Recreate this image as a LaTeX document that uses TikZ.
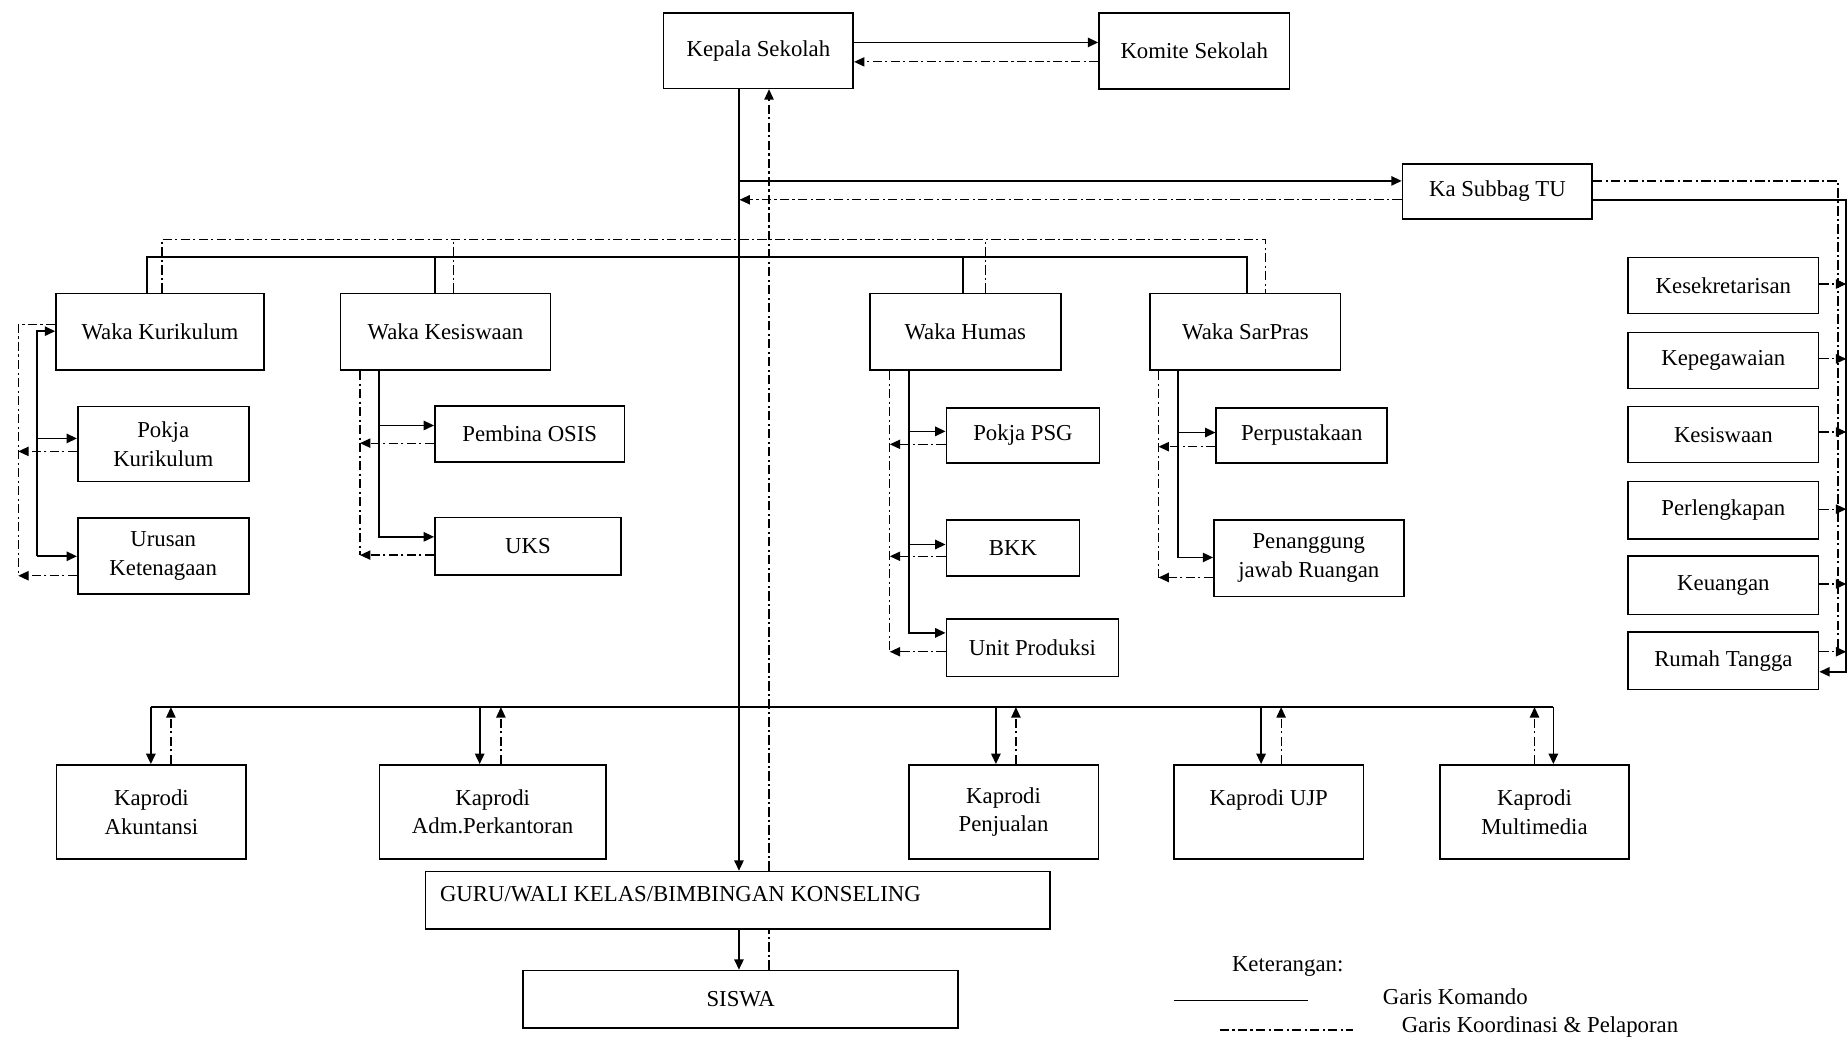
\documentclass[tikz,border=0pt]{standalone}
\usepackage{fontspec}
\setmainfont{Liberation Serif}
\usetikzlibrary{arrows.meta}
\newcommand\mkbox[6]{\node[ubox, minimum width={(#4-#2)*0.02cm}, minimum height={(#5-#3)*0.02cm}] (#1) at ({(#2+#4)/2},{(#3+#5)/2}) {#6};}
\begin{document}
\begin{tikzpicture}[x=0.02cm, y=-0.02cm,
  ubox/.style={draw, line width=0.8pt, fill=white, inner sep=0pt, align=center, font=\fontsize{11}{13.7}\selectfont},
  lbl/.style={inner sep=0pt, font=\fontsize{11}{13.7}\selectfont},
  cmdl/.style={line width=0.8pt},
  rpt/.style={line width=0.6pt, dash pattern=on 4.5pt off 1.6pt on 1pt off 1.6pt},
  arr/.style={-{Triangle[length=5pt,width=4.5pt]}}]
\useasboundingbox (0,0) rectangle (1568,882);
% boxes
\mkbox{kep}{563}{11}{724}{75}{Kepala Sekolah}
\mkbox{kom}{932.5}{11}{1094}{75.5}{Komite Sekolah}
\mkbox{tu}{1190}{139}{1351}{186}{Ka Subbag TU}
\mkbox{wkur}{47.5}{249}{224}{314}{Waka Kurikulum}
\mkbox{wkes}{289}{249}{467}{314}{Waka Kesiswaan}
\mkbox{whum}{738}{249}{900}{314}{Waka Humas}
\mkbox{wsar}{976}{249}{1137.5}{314}{Waka SarPras}
\mkbox{pkk}{66}{345}{211}{408.5}{Pokja\\Kurikulum}
\mkbox{urk}{66}{439.5}{211}{504}{Urusan\\Ketenagaan}
\mkbox{pos}{369}{344.5}{530}{392}{Pembina OSIS}
\mkbox{uks}{369}{439}{527}{488}{UKS}
\mkbox{psg}{803}{346}{933}{393}{Pokja PSG}
\mkbox{bkk}{803}{441}{916}{489}{BKK}
\mkbox{upr}{803}{525}{949}{574}{Unit Produksi}
\mkbox{per}{1032}{346}{1177}{393}{Perpustakaan}
\mkbox{pjr}{1030}{441}{1191}{506}{Penanggung\\jawab Ruangan}
\mkbox{kes}{1381.5}{218.5}{1543}{266}{Kesekretarisan}
\mkbox{kpg}{1381.5}{282}{1543}{329.5}{Kepegawaian}
\mkbox{ksw}{1381.5}{345}{1543}{392.5}{Kesiswaan}
\mkbox{plk}{1381.5}{408.5}{1543}{457.5}{Perlengkapan}
\mkbox{keu}{1381.5}{472}{1543}{521.5}{Keuangan}
\mkbox{rt}{1381.5}{536}{1543}{585}{Rumah Tangga}
\mkbox{kak}{48}{649}{209}{729}{Kaprodi\\Akuntansi}
\mkbox{kadm}{322}{649}{514}{729}{Kaprodi\\Adm.Perkantoran}
\mkbox{kpj}{771}{649}{932}{729}{Kaprodi\\Penjualan}
\mkbox{kujp}{996}{649}{1157}{729}{Kaprodi UJP\\\mbox{}}
\mkbox{kmm}{1222}{649}{1382}{729}{Kaprodi\\Multimedia}
\mkbox{guru}{361}{739.5}{891}{788}{}
\mkbox{siswa}{444}{823.5}{813}{872}{SISWA}
\node[lbl, anchor=west] (gurut) at (373,759) {GURU/WALI KELAS/BIMBINGAN KONSELING};
% top
\draw[cmdl,arr] (kep.east |- 0,36) -- (kom.west |- 0,36);
\draw[rpt,arr] (kom.west |- 0,52.5) -- (kep.east |- 0,52.5);
\draw[cmdl,arr] (kep.south -| 627,0) -- (guru.north -| 627,0);
\draw[cmdl,arr] (guru.south -| 627,0) -- (siswa.north -| 627,0);
\draw[rpt,arr] (guru.north -| 652.5,0) -- (kep.south -| 652.5,0);
\draw[rpt] (siswa.north -| 652.5,0) -- (guru.south -| 652.5,0);
% TU
\coordinate (j1) at (627,153.5);
\coordinate (j2) at (627.5,169.5);
\draw[cmdl,arr] (j1) -- (tu.west |- j1);
\draw[rpt,arr] (tu.west |- j2) -- (j2);
\coordinate (rc) at (1566.5,570);
\coordinate (dc) at (1559.5,553);
\draw[cmdl,arr] (tu.east |- j2) -| (rc) -- (rt.east |- rc);
\draw[rpt] (tu.east |- j1) -| (dc);
\draw[rpt,arr] (kes.east |- 0,241) -- (rc |- 0,241);
\draw[rpt,arr] (kpg.east |- 0,304.5) -- (rc |- 0,304.5);
\draw[rpt,arr] (ksw.east |- 0,366.5) -- (rc |- 0,366.5);
\draw[rpt,arr] (plk.east |- 0,432) -- (rc |- 0,432);
\draw[rpt,arr] (keu.east |- 0,495.5) -- (rc |- 0,495.5);
\draw[rpt,arr] (rt.east |- dc) -- (rc |- dc);
% Waka buses
\coordinate (bs) at (600,218);
\coordinate (bd) at (600,203);
\draw[cmdl] (wkur.north -| 124.5,0) |- (bs) -| (wsar.north -| 1058,0);
\draw[cmdl] (wkes.north -| 369,0) -- (bs -| 369,0);
\draw[cmdl] (whum.north -| 817,0) -- (bs -| 817,0);
\draw[rpt] (wkur.north -| 137.5,0) |- (bd) -| (wsar.north -| 1074,0);
\draw[rpt] (wkes.north -| 385,0) -- (bd -| 385,0);
\draw[rpt] (whum.north -| 836,0) -- (bd -| 836,0);
% Kurikulum
\coordinate (ck1) at (31.5,472);
\draw[cmdl,arr] (ck1) |- (wkur.west |- 0,281);
\draw[cmdl,arr] (ck1) -- (urk.west |- ck1);
\draw[cmdl,arr] (ck1 |- 0,372) -- (pkk.west |- 0,372);
\coordinate (dk1) at (15.5,488.5);
\draw[rpt] (wkur.west |- 0,275.5) -| (dk1);
\draw[rpt,arr] (urk.west |- dk1) -- (dk1);
\draw[rpt,arr] (pkk.west |- 0,383) -- (dk1 |- 0,383);
% Kesiswaan
\coordinate (ck2) at (321.5,455.5);
\draw[cmdl,arr] (wkes.south -| ck2) |- (uks.west |- ck2);
\draw[cmdl,arr] (ck2 |- 0,361) -- (pos.west |- 0,361);
\coordinate (dk2) at (305.5,471);
\draw[rpt] (wkes.south -| dk2) -- (dk2);
\draw[rpt,arr] (uks.west |- dk2) -- (dk2);
\draw[rpt,arr] (pos.west |- 0,376) -- (dk2 |- 0,376);
% Humas
\coordinate (ck3) at (771,537);
\draw[cmdl,arr] (whum.south -| ck3) |- (upr.west |- ck3);
\draw[cmdl,arr] (ck3 |- 0,366) -- (psg.west |- 0,366);
\draw[cmdl,arr] (ck3 |- 0,462) -- (bkk.west |- 0,462);
\coordinate (dk3) at (755,553);
\draw[rpt] (whum.south -| dk3) -- (dk3);
\draw[rpt,arr] (upr.west |- dk3) -- (dk3);
\draw[rpt,arr] (psg.west |- 0,377) -- (dk3 |- 0,377);
\draw[rpt,arr] (bkk.west |- 0,472) -- (dk3 |- 0,472);
% SarPras
\coordinate (ck4) at (999.5,473);
\draw[cmdl,arr] (wsar.south -| ck4) |- (pjr.west |- ck4);
\draw[cmdl,arr] (ck4 |- 0,367) -- (per.west |- 0,367);
\coordinate (dk4) at (983,490);
\draw[rpt] (wsar.south -| dk4) -- (dk4);
\draw[rpt,arr] (pjr.west |- dk4) -- (dk4);
\draw[rpt,arr] (per.west |- 0,379) -- (dk4 |- 0,379);
% Kaprodi
\coordinate (kb1) at (128,600);
\coordinate (kb2) at (1318,600);
\draw[cmdl] (kb1) -- (kb2);
\draw[cmdl,arr] (kb1) -- (kak.north -| kb1);
\draw[cmdl,arr] (kb1 -| 407,0) -- (kadm.north -| 407,0);
\draw[cmdl,arr] (kb1 -| 845,0) -- (kpj.north -| 845,0);
\draw[cmdl,arr] (kb1 -| 1070,0) -- (kujp.north -| 1070,0);
\draw[cmdl,arr] (kb2) -- (kmm.north -| kb2);
\draw[rpt,arr] (kak.north -| 145,0) -- (kb1 -| 145,0);
\draw[rpt,arr] (kadm.north -| 425,0) -- (kb1 -| 425,0);
\draw[rpt,arr] (kpj.north -| 862,0) -- (kb1 -| 862,0);
\draw[rpt,arr] (kujp.north -| 1087,0) -- (kb1 -| 1087,0);
\draw[rpt,arr] (kmm.north -| 1302,0) -- (kb1 -| 1302,0);
% legend
\node[lbl, anchor=west] (ket) at (1045,820) {Keterangan:};
\node[lbl, anchor=west] (gk) at (1173,846) {Garis Komando};
\node[lbl, anchor=west] (gkp) at (1189,871) {Garis Koordinasi \& Pelaporan};
\coordinate (lg1) at (996,849);
\coordinate (lg2) at (1110,849);
\coordinate (lg3) at (1035,874);
\coordinate (lg4) at (1148,874);
\draw[cmdl] (lg1) -- (lg2);
\draw[rpt] (lg3) -- (lg4);
\end{tikzpicture}
\end{document}
